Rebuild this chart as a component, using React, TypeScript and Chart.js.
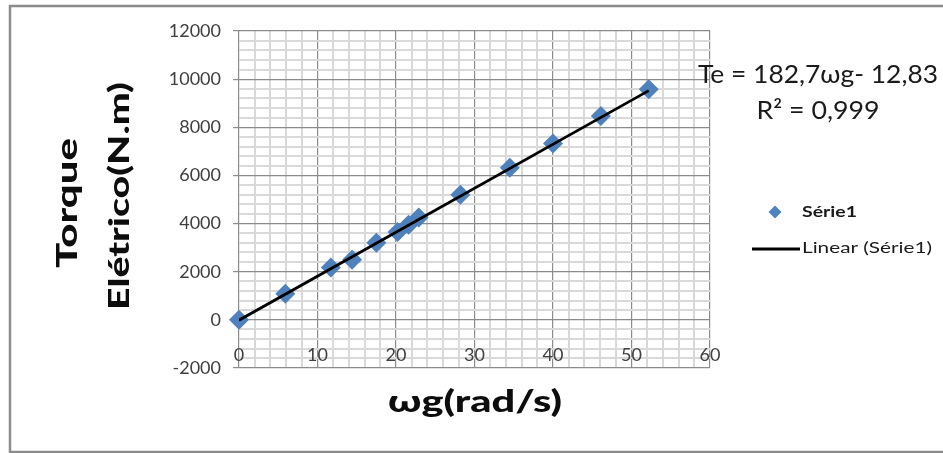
import React, { useEffect, useRef } from "react";
import { Chart, registerables } from "chart.js";

Chart.register(...registerables);

// ---- data ----
const omegaG = [0, 5.9, 11.7, 14.4, 17.5, 20.2, 21.6, 22.9, 28.2, 34.5, 40.0, 46.1, 52.2];
const torque = [0, 1080, 2180, 2500, 3200, 3650, 3950, 4250, 5200, 6320, 7330, 8470, 9580];

const trendSlope = 182.7;
const trendIntercept = -12.83;

const xMin = 0;
const xMax = 60;
const xMajorStep = 10;
const xMinorStep = 2;
const yMin = -2000;
const yMax = 12000;
const yMajorStep = 2000;
const yMinorStep = 400;

const seriesName = "Série1";
const trendName = "Linear (Série1)";
const equationText = "Te = 182,7ωg- 12,83";
const r2Text = "R² = 0,999";
const xTitle = "ωg(rad/s)";
const yTitleLines = ["Torque", "Elétrico(N.m)"];

const FONT = "Lato, 'Open Sans', sans-serif";
const BLUE = "#4f81bd";
const TICK_COLOR = "#404040";

function isMajor(v: number, step: number) {
  const r = Math.abs(v % step);
  return r < 1e-6 || Math.abs(r - step) < 1e-6;
}

function fitText(
  ctx: CanvasRenderingContext2D,
  text: string,
  x: number,
  y: number,
  font: string,
  targetWidth: number,
  align: CanvasTextAlign,
  rotation = 0
) {
  ctx.save();
  ctx.font = font;
  const w = ctx.measureText(text).width;
  const sx = targetWidth / w;
  ctx.translate(x, y);
  ctx.rotate(rotation);
  ctx.scale(sx, 1);
  ctx.textAlign = align;
  ctx.textBaseline = "middle";
  ctx.fillText(text, 0, 0);
  ctx.restore();
}

const decorPlugin = {
  id: "decor",
  beforeDraw(chart: any) {
    const ctx: CanvasRenderingContext2D = chart.ctx;
    ctx.save();
    ctx.fillStyle = "#ffffff";
    ctx.fillRect(0, 0, chart.width, chart.height);
    ctx.strokeStyle = "#8c8c8c";
    ctx.lineWidth = 2.5;
    ctx.strokeRect(10, 6, chart.width + 20, 446);
    ctx.restore();
  },
  beforeDatasetsDraw(chart: any) {
    // x tick labels sit just inside the bottom of the plot area (Excel "low" position)
    const ctx: CanvasRenderingContext2D = chart.ctx;
    const xs = chart.scales.x;
    const bottom = chart.chartArea.bottom;
    ctx.save();
    ctx.fillStyle = TICK_COLOR;
    ctx.font = `18px ${FONT}`;
    ctx.textAlign = "center";
    ctx.textBaseline = "middle";
    for (const t of xs.ticks) {
      if (!isMajor(t.value, xMajorStep)) continue;
      ctx.fillText(String(t.value), xs.getPixelForValue(t.value), bottom - 13);
    }
    ctx.restore();
  },
  afterDraw(chart: any) {
    const ctx: CanvasRenderingContext2D = chart.ctx;
    ctx.save();
    // axis titles
    ctx.fillStyle = "#0d0d0d";
    fitText(ctx, yTitleLines[0], 68, 203, `900 29px ${FONT}`, 130, "center", -Math.PI / 2);
    fitText(ctx, yTitleLines[1], 120, 196, `900 29px ${FONT}`, 228, "center", -Math.PI / 2);
    fitText(ctx, xTitle, 475, 402, `900 31px ${FONT}`, 174, "center");

    // trendline equation
    ctx.fillStyle = "#1a1a1a";
    fitText(ctx, equationText, 818, 75, `25px ${FONT}`, 240, "center");
    fitText(ctx, r2Text, 818, 111, `25px ${FONT}`, 123, "center");

    // legend
    ctx.fillStyle = BLUE;
    ctx.beginPath();
    const mx = 775, my = 212, r = 6.5;
    ctx.moveTo(mx, my - r);
    ctx.lineTo(mx + r, my);
    ctx.lineTo(mx, my + r);
    ctx.lineTo(mx - r, my);
    ctx.closePath();
    ctx.fill();
    ctx.fillStyle = "#1a1a1a";
    fitText(ctx, seriesName, 802, 212, `bold 16px ${FONT}`, 55, "left");
    ctx.strokeStyle = "#000000";
    ctx.lineWidth = 2.8;
    ctx.beginPath();
    ctx.moveTo(752, 249);
    ctx.lineTo(800, 249);
    ctx.stroke();
    fitText(ctx, trendName, 802, 248, `16px ${FONT}`, 130, "left");
    ctx.restore();
  },
};

export default function App() {
  const ref = useRef<HTMLCanvasElement | null>(null);

  useEffect(() => {
    document.body.style.margin = "0";
    const canvas = ref.current;
    if (!canvas) return;

    const points = omegaG.map((x, i) => ({ x, y: torque[i] }));
    const xs0 = Math.min(...omegaG);
    const xs1 = Math.max(...omegaG);
    const trend = [
      { x: xs0, y: trendSlope * xs0 + trendIntercept },
      { x: xs1, y: trendSlope * xs1 + trendIntercept },
    ];

    const chart = new Chart(canvas, {
      type: "scatter",
      data: {
        datasets: [
          {
            type: "line",
            label: trendName,
            data: trend,
            borderColor: "#000000",
            borderWidth: 2.8,
            pointRadius: 0,
            fill: false,
            order: 0,
          } as any,
          {
            label: seriesName,
            data: points,
            pointStyle: "rectRot",
            pointRadius: 10,
            pointBackgroundColor: BLUE,
            pointBorderWidth: 0,
            backgroundColor: BLUE,
            borderColor: BLUE,
            clip: false,
            order: 1,
          } as any,
        ],
      },
      options: {
        responsive: false,
        animation: false,
        layout: { padding: { left: 0, right: 233, top: 31, bottom: 0 } },
        plugins: {
          legend: { display: false },
          tooltip: { enabled: false },
        },
        scales: {
          x: {
            type: "linear",
            position: "bottom",
            min: xMin,
            max: xMax,
            afterFit(scale: any) {
              scale.height = 85;
            },
            border: { display: false },
            grid: {
              drawTicks: false,
              color: (c: any) => (isMajor(c.tick.value, xMajorStep) ? "#8c8c8c" : "#d9d9d9"),
              lineWidth: (c: any) => (isMajor(c.tick.value, xMajorStep) ? 1.2 : 2),
            },
            ticks: {
              display: false,
              stepSize: xMinorStep,
              autoSkip: false,
              maxRotation: 0,
            },
          },
          y: {
            type: "linear",
            min: yMin,
            max: yMax,
            afterFit(scale: any) {
              scale.width = 239;
            },
            border: { display: false },
            grid: {
              drawTicks: true,
              tickLength: 6,
              tickColor: (c: any) => (isMajor(c.tick.value, yMajorStep) ? "#8c8c8c" : "rgba(0,0,0,0)"),
              color: (c: any) => (isMajor(c.tick.value, yMajorStep) ? "#8c8c8c" : "#d9d9d9"),
              lineWidth: (c: any) => (isMajor(c.tick.value, yMajorStep) ? 1.2 : 2),
            },
            ticks: {
              stepSize: yMinorStep,
              autoSkip: false,
              padding: 12,
              color: TICK_COLOR,
              font: { family: FONT, size: 18 },
              callback: (v: any) => (isMajor(Number(v), yMajorStep) ? String(v) : ""),
            },
          },
        },
      },
      plugins: [decorPlugin],
    });

    return () => chart.destroy();
  }, []);

  return (
    <div style={{ width: 943, height: 453 }}>
      <canvas ref={ref} width={943} height={453} style={{ display: "block" }} />
    </div>
  );
}
